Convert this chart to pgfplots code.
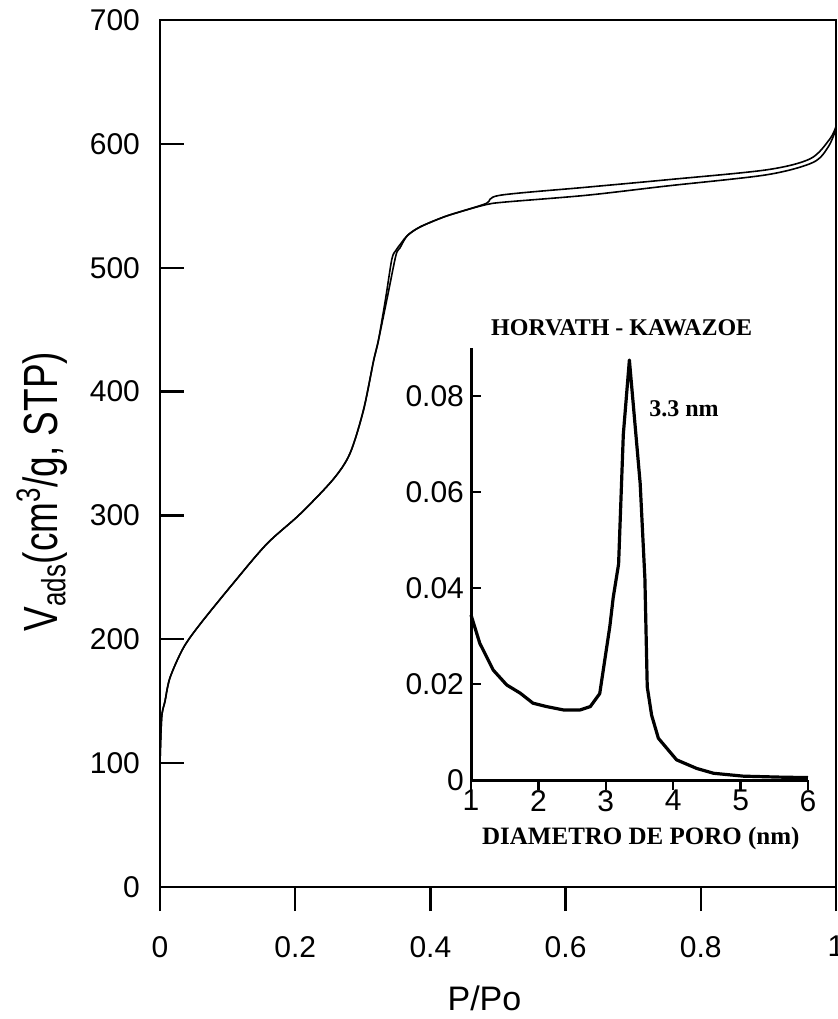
\documentclass[border=0pt]{standalone}
\usepackage{fontspec}
\setmainfont{Liberation Sans}
\newfontfamily\timesf{Liberation Serif}
\usepackage{graphicx}
\usepackage{pgfplots}
\pgfplotsset{compat=1.18}

\pgfplotstableread{
x y
0 100
0.0025 137
0.0074 150
0.0148 169
0.0345 193
0.059 212
0.108 245
0.158 277
0.207 301
0.256 329
0.281 350
0.301 385
0.316 425
0.323 441
0.334 476
0.343 507
0.349 514
0.357 520
0.366 526
0.385 533
0.42 541
0.449 546
0.483 551
0.51 553
0.631 558.5
0.75 566
0.897 575
0.966 585
0.989 598
1.0 612
}\adsorption

\pgfplotstableread{
x y
0 100
0.0025 137
0.0074 150
0.0148 169
0.0345 193
0.059 212
0.108 245
0.158 277
0.207 301
0.256 329
0.281 350
0.301 385
0.316 425
0.323 441
0.337 478
0.349 510
0.355 516
0.366 526
0.385 533
0.42 541
0.449 546
0.483 552
0.503 558.5
0.631 565
0.75 571
0.897 579
0.962 588
0.991 604
1.0 614
}\desorption

\pgfplotstableread{
x y
1.0 0.0344
1.13 0.0285
1.33 0.0229
1.53 0.0198
1.73 0.0181
1.92 0.0160
2.12 0.0153
2.37 0.0146
2.62 0.0146
2.77 0.0153
2.91 0.0180
3.06 0.0320
3.11 0.0380
3.19 0.0450
3.26 0.0720
3.35 0.0875
3.51 0.0618
3.58 0.0420
3.615 0.0194
3.68 0.0135
3.78 0.0087
4.05 0.0042
4.35 0.0024
4.6 0.0014
5.04 0.0008
5.58 0.0006
6.0 0.0005
}\hkdist

\begin{document}
\begin{tikzpicture}
\useasboundingbox (-80pt,-66pt) rectangle (339pt,443.5pt);
\begin{axis}[
  at={(0pt,0pt)}, anchor=south west,
  scale only axis, width=338pt, height=433.5pt,
  xmin=0, xmax=1, ymin=0, ymax=700,
  xtick={0,0.2,0.4,0.6,0.8,1}, xticklabels={0,0.2,0.4,0.6,0.8,1},
  ytick={0,100,200,300,400,500,600,700},
  yticklabels={0,100,200,300,400,500,600,700},
  xtick pos=left, ytick pos=left,
  tick align=inside,
  major tick length=12pt,
  axis line style={line width=1.2pt},
  tick style={black, line width=1.2pt},
  xtick style={yshift=-12pt},
  tick label style={font=\fontsize{15}{15}\selectfont},
  xticklabel style={yshift=-21pt},
  yticklabel style={xshift=-6.5pt},
  xlabel={P/Po},
  xlabel style={font=\fontsize{17}{17}\selectfont, at={(axis description cs:0.48,0)}, anchor=base, yshift=-61.5pt},
  ylabel={\scalebox{0.77}[1]{V\textsubscript{ads}(cm\textsuperscript{3}/g, STP)}},
  ylabel style={font=\fontsize{24}{24}\selectfont, at={(axis description cs:-0.151,0.456)}, anchor=base, rotate=0},
  clip=false,
]
\addplot[black, line width=0.8pt, smooth, tension=0.5] table {\adsorption};
\addplot[black, line width=0.8pt, smooth, tension=0.5] table {\desorption};
\end{axis}

\begin{axis}[
  at={(155.5pt,53.5pt)}, anchor=south west,
  scale only axis, width=168.5pt, height=216pt,
  xmin=1, xmax=6, ymin=0, ymax=0.09,
  axis lines*=left,
  axis line style={line width=1.5pt},
  xtick={1,2,3,4,5,6}, xticklabels={1,2,3,4,5,6},
  ytick={0,0.02,0.04,0.06,0.08}, yticklabels={0,0.02,0.04,0.06,0.08},
  scaled y ticks=false, scaled x ticks=false,
  tick align=inside,
  major tick length=5pt,
  tick style={black, line width=1.2pt},
  xtick style={yshift=-5pt},
  tick label style={font=\fontsize{15}{15}\selectfont},
  xticklabel style={yshift=-1.5pt},
  clip=false,
]
\addplot[black, line width=1.6pt, line join=round] table {\hkdist};
\node[font=\timesf\bfseries\fontsize{12}{12}\selectfont, anchor=base] at (axis cs:3.236,0.0927) {HORVATH - KAWAZOE};
\node[font=\timesf\bfseries\fontsize{12}{12}\selectfont, anchor=base] at (axis cs:4.16,0.0757) {3.3 nm};
\node[font=\timesf\bfseries\fontsize{12.5}{12.5}\selectfont, anchor=base] at (axis cs:3.52,-0.01354) {DIAMETRO DE PORO (nm)};
\end{axis}
\end{tikzpicture}
\end{document}
